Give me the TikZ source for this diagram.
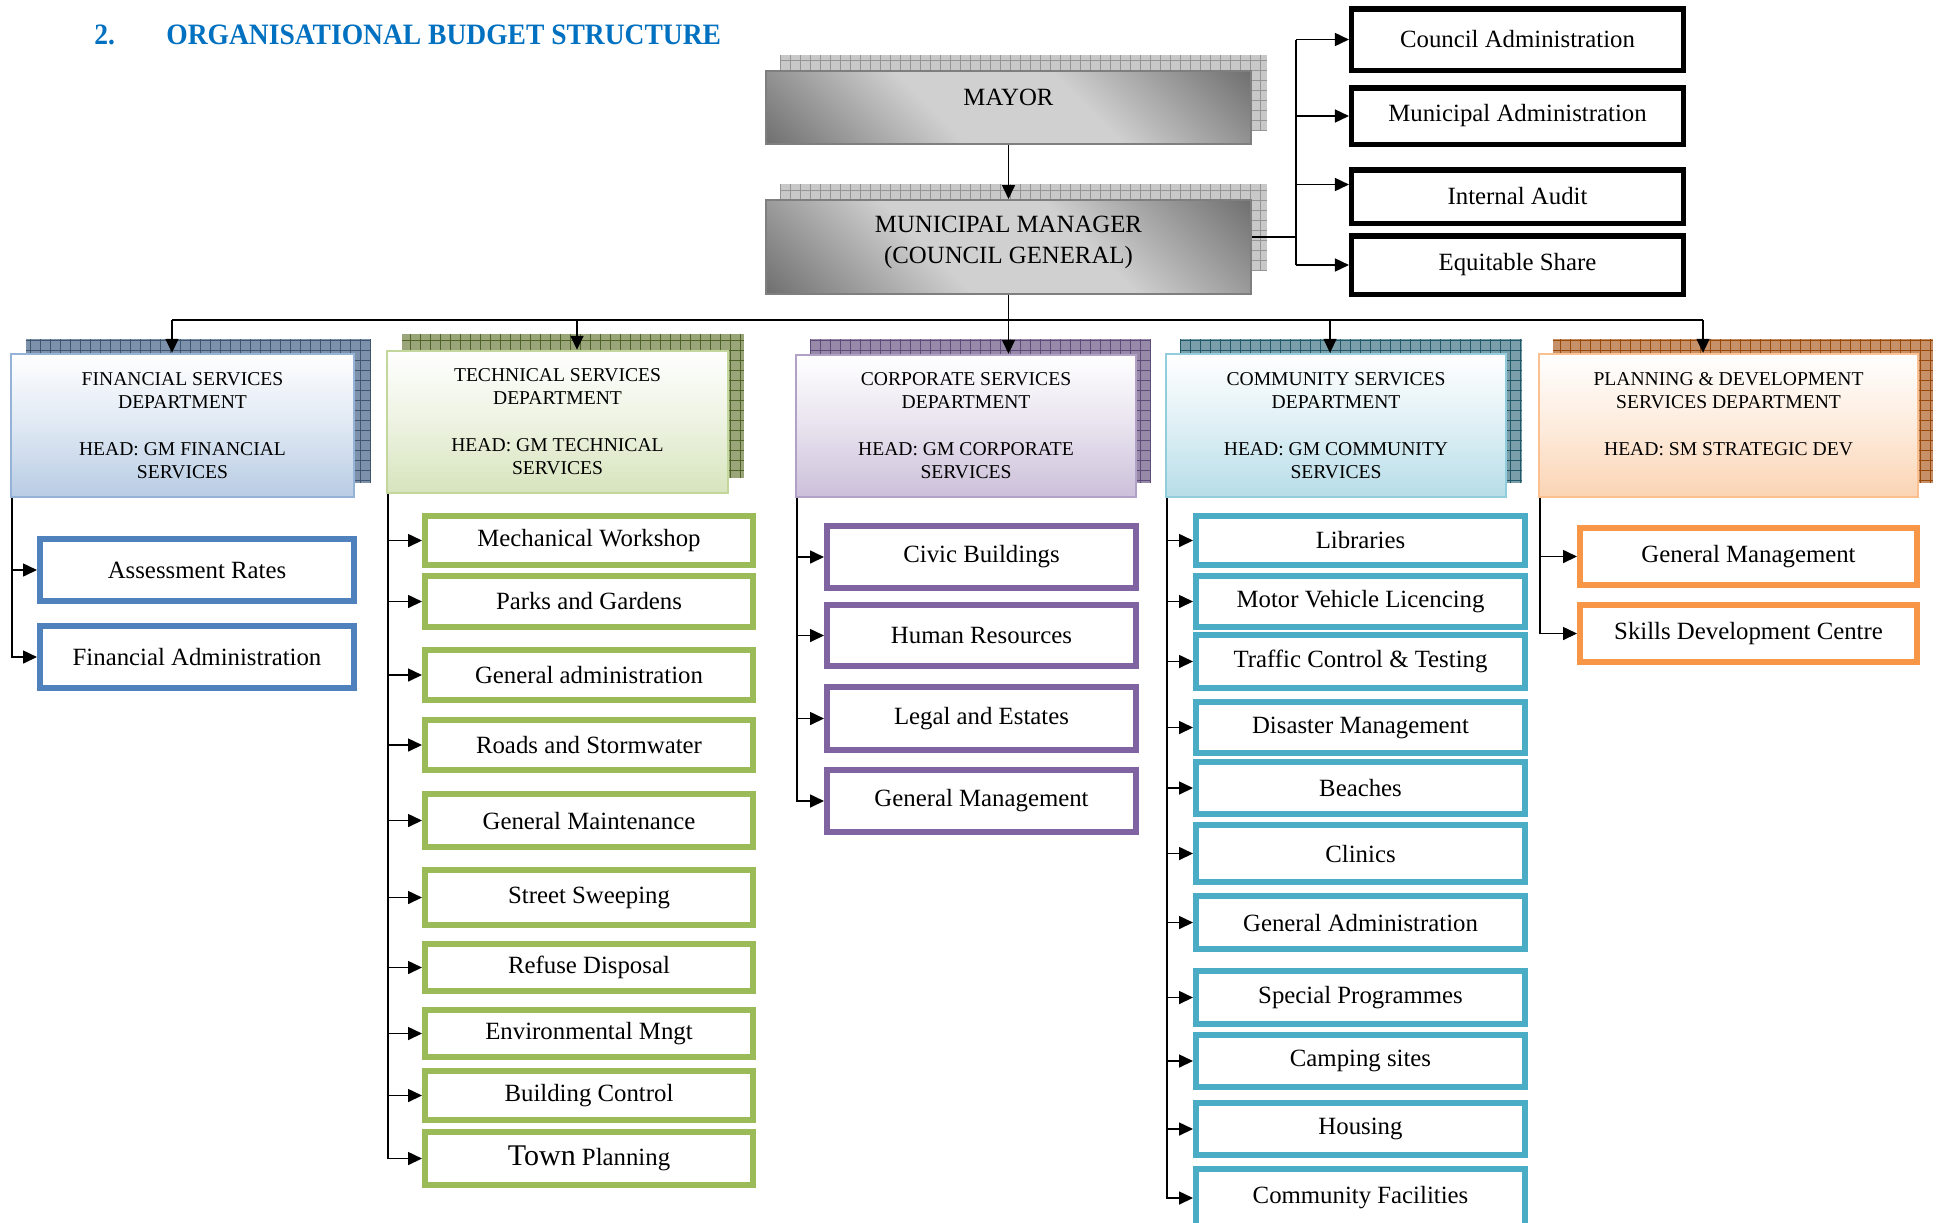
\documentclass[tikz,border=0pt]{standalone}
\usepackage{fontspec}
\setmainfont{Liberation Serif}
\usepackage{graphicx}
\usetikzlibrary{arrows.meta,backgrounds}

\definecolor{titleblue}{HTML}{0070C0}
\definecolor{topedge}{HTML}{7F7F7F}
\definecolor{topdark}{HTML}{5E5E5E}
\definecolor{toplight}{HTML}{D0D0D0}
\definecolor{topshd}{HTML}{C8C8C8}
\definecolor{topgrid}{HTML}{959595}
\definecolor{finedge}{HTML}{95B3D7}
\definecolor{finfill}{HTML}{B8CCE4}
\definecolor{finshd}{HTML}{7E91AB}
\definecolor{fingrid}{HTML}{3F5670}
\definecolor{finitem}{HTML}{4F81BD}
\definecolor{techedge}{HTML}{C3D69B}
\definecolor{techfill}{HTML}{D7E4BD}
\definecolor{techshd}{HTML}{9AA67A}
\definecolor{techgrid}{HTML}{4F6228}
\definecolor{techitem}{HTML}{9BBB59}
\definecolor{corpedge}{HTML}{B2A1C7}
\definecolor{corpfill}{HTML}{CCC0DA}
\definecolor{corpshd}{HTML}{978AA8}
\definecolor{corpgrid}{HTML}{5F4B7A}
\definecolor{corpitem}{HTML}{8064A2}
\definecolor{commedge}{HTML}{92CDDC}
\definecolor{commfill}{HTML}{B7DDE8}
\definecolor{commshd}{HTML}{7A9FAA}
\definecolor{commgrid}{HTML}{215968}
\definecolor{commitem}{HTML}{4BACC6}
\definecolor{planedge}{HTML}{FAC090}
\definecolor{planfill}{HTML}{FBD4B4}
\definecolor{planshd}{HTML}{C69068}
\definecolor{plangrid}{HTML}{984807}
\definecolor{planitem}{HTML}{F79646}

\pgfdeclareverticalshading{metal}{100bp}{color(0bp)=(topdark); color(10bp)=(topdark);
  color(40bp)=(toplight); color(60bp)=(toplight); color(90bp)=(topdark); color(100bp)=(topdark)}

\tikzset{
  line/.style={line width=0.8pt},
  arr/.style={line, -{Triangle[length=7pt,width=6.5pt]}},
  shd/.style={fill=#1shd},
  shdgrid/.style={draw=#1grid, line width=0.4pt, step=5pt},
  topbox/.style={draw=topedge, line width=1pt, shading=metal, shading angle=-45,
    minimum width=242.5pt, inner sep=0pt, align=center,
    font=\fontsize{12.4}{15.5}\selectfont},
  dept/.style={draw=#1edge, line width=1.2pt, top color=white, bottom color=#1fill,
    middle color=#1fill!45!white, inner sep=0pt, align=center, minimum height=71.5pt,
    font=\fontsize{9.8}{11.5}\selectfont},
  item/.style={draw=#1item, line width=3pt, fill=white, inner sep=0pt,
    font=\fontsize{12.4}{14}\selectfont},
  admin/.style={draw=black, line width=2.75pt, fill=white, minimum width=165.8pt,
    inner sep=0pt, font=\fontsize{12.4}{14}\selectfont},
}

\begin{document}
\begin{tikzpicture}[x=0.5pt,y=-0.5pt]
  \useasboundingbox (0,0) rectangle (1942,1222);
  \clip (0,0) rectangle (1942,1222);

  %TITLE
  \node[anchor=base west, inner sep=0pt, text=titleblue, font=\bfseries\fontsize{14.8}{17}\selectfont] (num) at (94,44) {\scalebox{0.93}[1]{2.}};
  \node[anchor=base west, inner sep=0pt, text=titleblue, font=\bfseries\fontsize{14.8}{17}\selectfont] (title) at (166,44) {\scalebox{0.93}[1]{ORGANISATIONAL BUDGET STRUCTURE}};

  %shadows
  \fill[shd=top] (780,55) rectangle (1267,130);
  \draw[shdgrid=top] (780,55) grid (1267,130);
  \fill[shd=top] (780,184) rectangle (1267,271);
  \draw[shdgrid=top] (780,184) grid (1267,271);
  \fill[shd=fin] (26,339) rectangle (370,483);
  \draw[shdgrid=fin] (26,339) grid (370,483);
  \fill[shd=tech] (402,334) rectangle (744,478);
  \draw[shdgrid=tech] (402,334) grid (744,478);
  \fill[shd=corp] (810,339) rectangle (1151,483);
  \draw[shdgrid=corp] (810,339) grid (1151,483);
  \fill[shd=comm] (1180,339) rectangle (1522,483);
  \draw[shdgrid=comm] (1180,339) grid (1522,483);
  \fill[shd=plan] (1553,339) rectangle (1933,483);
  \draw[shdgrid=plan] (1553,339) grid (1933,483);

  %MAYOR
  \node[topbox, minimum height=36.5pt, text depth=10pt] (mayor) at (1008.5,107.5) {MAYOR};
  \node[topbox, minimum height=47pt, text depth=7.5pt] (mm) at (1008.5,247) {MUNICIPAL MANAGER\\(COUNCIL GENERAL)};

  %ADMIN
  \node[admin, minimum height=30.75pt] (ca) at (1517.5,39.5) {Council Administration};
  \node[admin, minimum height=28.25pt] (ma) at (1517.5,116) {Municipal Administration};
  \node[admin, minimum height=26.75pt] (ia) at (1517.5,196.5) {Internal Audit};
  \node[admin, minimum height=29.25pt] (es) at (1517.5,265) {Equitable Share};

  %DEPARTMENTS
  \node[dept=fin, minimum width=171.5pt] (fin) at (182.5,425.5) {FINANCIAL SERVICES\\DEPARTMENT\\[12pt]HEAD: GM FINANCIAL\\SERVICES};
  \node[dept=tech, minimum width=170.5pt, minimum height=71pt] (tech) at (557.5,422) {TECHNICAL SERVICES\\DEPARTMENT\\[12pt]HEAD: GM TECHNICAL\\SERVICES};
  \node[dept=corp, minimum width=170pt, minimum height=71pt] (corp) at (966,426) {CORPORATE SERVICES\\DEPARTMENT\\[12pt]HEAD: GM CORPORATE\\SERVICES};
  \node[dept=comm, minimum width=170pt] (comm) at (1336,425.5) {COMMUNITY SERVICES\\DEPARTMENT\\[12pt]HEAD: GM COMMUNITY\\SERVICES};
  \node[dept=plan, minimum width=189.5pt] (plan) at (1728.5,425.5) {PLANNING \& DEVELOPMENT\\SERVICES DEPARTMENT\\[12pt]HEAD: SM STRATEGIC DEV\\\mbox{}};

  %FINANCE
  \node[item=fin, minimum width=157pt, minimum height=31pt] (ar) at (197,570) {Assessment Rates};
  \node[item=fin, minimum width=157pt, minimum height=31pt] (fa) at (197,657) {Financial Administration};

  %TECHNICAL
  \node[item=tech, minimum width=164pt, minimum height=24.5pt] (mw) at (589,540.5) {Mechanical Workshop};
  \node[item=tech, minimum width=164pt, minimum height=25.5pt] (pg) at (589,601.5) {Parks and Gardens};
  \node[item=tech, minimum width=164pt, minimum height=25pt] (ga) at (589,675) {General administration};
  \node[item=tech, minimum width=164pt, minimum height=25pt] (rs) at (589,745) {Roads and Stormwater};
  \node[item=tech, minimum width=164pt, minimum height=26.5pt] (gm) at (589,820.5) {General Maintenance};
  \node[item=tech, minimum width=164pt, minimum height=27.5pt] (ss) at (589,897.5) {Street Sweeping};
  \node[item=tech, minimum width=164pt, minimum height=23.5pt] (rd) at (589,967.5) {Refuse Disposal};
  \node[item=tech, minimum width=164pt, minimum height=23.5pt] (em) at (589,1033.5) {Environmental Mngt};
  \node[item=tech, minimum width=164pt, minimum height=24.5pt] (bc) at (589,1095.5) {Building Control};
  \node[item=tech, minimum width=164pt, minimum height=26.5pt] (tp) at (589,1158.5) {{\fontsize{15}{15}\selectfont Town} Planning};

  %CORPORATE
  \node[item=corp, minimum width=154.5pt, minimum height=31pt] (cb) at (981.5,557) {Civic Buildings};
  \node[item=corp, minimum width=154.5pt, minimum height=30.5pt] (hr) at (981.5,635.5) {Human Resources};
  \node[item=corp, minimum width=154.5pt, minimum height=31.5pt] (le) at (981.5,718.5) {Legal and Estates};
  \node[item=corp, minimum width=154.5pt, minimum height=31pt] (cgm) at (981.5,801) {General Management};

  %COMMUNITY
  \node[item=comm, minimum width=164.5pt, minimum height=24.5pt] (lib) at (1360.5,540.5) {Libraries};
  \node[item=comm, minimum width=164.5pt, minimum height=25.5pt] (mvl) at (1360.5,601.5) {Motor Vehicle Licencing};
  \node[item=comm, minimum width=164.5pt, minimum height=26.5pt] (tct) at (1360.5,661.5) {Traffic Control \& Testing};
  \node[item=comm, minimum width=164.5pt, minimum height=25.5pt] (dm) at (1360.5,727.5) {Disaster Management};
  \node[item=comm, minimum width=164.5pt, minimum height=26pt] (bea) at (1360.5,788) {Beaches};
  \node[item=comm, minimum width=164.5pt, minimum height=28.5pt] (cli) at (1360.5,853.5) {Clinics};
  \node[item=comm, minimum width=164.5pt, minimum height=26.5pt] (gad) at (1360.5,922.5) {General Administration};
  \node[item=comm, minimum width=164.5pt, minimum height=26.5pt] (sp) at (1360.5,997.5) {Special Programmes};
  \node[item=comm, minimum width=164.5pt, minimum height=26pt] (cs) at (1360.5,1061) {Camping sites};
  \node[item=comm, minimum width=164.5pt, minimum height=26pt] (hou) at (1360.5,1129) {Housing};
  \node[item=comm, minimum width=164.5pt, minimum height=29pt] (cf) at (1360.5,1198) {Community Facilities};

  %PLANNING
  \node[item=plan, minimum width=168.5pt, minimum height=28.5pt] (pgm) at (1748.5,556.5) {General Management};
  \node[item=plan, minimum width=168.5pt, minimum height=28.5pt] (sdc) at (1748.5,633.5) {Skills Development Centre};

  %top links
  \draw[arr] (mayor) -- (mm);
  \coordinate (rbus) at (1296,237);
  \draw[line] (rbus -| mm.east) -- (rbus);
  \draw[line] (rbus |- ca.west) -- (rbus |- es.west);
  \draw[arr] (rbus |- ca.west) -- (ca.west);
  \draw[arr] (rbus |- ma.west) -- (ma.west);
  \draw[arr] ([yshift=6pt]rbus |- ia.west) -- ([yshift=6pt]ia.west);
  \draw[arr] (rbus |- es.west) -- (es.west);

  %bus to departments
  \coordinate (bfin) at (172,320);
  \coordinate (btech) at (577,320);
  \coordinate (bcorp) at (mm.south |- bfin);
  \coordinate (bcomm) at (1330,320);
  \coordinate (bplan) at (1703,320);
  \draw[line] (mm.south) -- (bcorp);
  \draw[line] (bfin) -- (bplan);
  \draw[arr] (bfin) -- (bfin |- fin.north);
  \draw[arr] (btech) -- (btech |- tech.north);
  \draw[arr] (bcorp) -- (bcorp |- corp.north);
  \draw[arr] (bcomm) -- (bcomm |- comm.north);
  \draw[arr] (bplan) -- (bplan |- plan.north);

  %department lists
  \draw[arr] ([xshift=1pt]fin.south west) |- (ar.west);
  \draw[arr] ([xshift=1pt]fin.south west) |- (fa.west);

  \draw[arr] ([xshift=1pt]tech.south west) |- (mw.west);
  \draw[arr] ([xshift=1pt]tech.south west) |- (pg.west);
  \draw[arr] ([xshift=1pt]tech.south west) |- (ga.west);
  \draw[arr] ([xshift=1pt]tech.south west) |- (rs.west);
  \draw[arr] ([xshift=1pt]tech.south west) |- (gm.west);
  \draw[arr] ([xshift=1pt]tech.south west) |- (ss.west);
  \draw[arr] ([xshift=1pt]tech.south west) |- (rd.west);
  \draw[arr] ([xshift=1pt]tech.south west) |- (em.west);
  \draw[arr] ([xshift=1pt]tech.south west) |- (bc.west);
  \draw[arr] ([xshift=1pt]tech.south west) |- (tp.west);

  \draw[arr] ([xshift=1pt]corp.south west) |- (cb.west);
  \draw[arr] ([xshift=1pt]corp.south west) |- (hr.west);
  \draw[arr] ([xshift=1pt]corp.south west) |- (le.west);
  \draw[arr] ([xshift=1pt]corp.south west) |- (cgm.west);

  \draw[arr] ([xshift=1pt]comm.south west) |- (lib.west);
  \draw[arr] ([xshift=1pt]comm.south west) |- (mvl.west);
  \draw[arr] ([xshift=1pt]comm.south west) |- (tct.west);
  \draw[arr] ([xshift=1pt]comm.south west) |- (dm.west);
  \draw[arr] ([xshift=1pt]comm.south west) |- (bea.west);
  \draw[arr] ([xshift=1pt]comm.south west) |- (cli.west);
  \draw[arr] ([xshift=1pt]comm.south west) |- (gad.west);
  \draw[arr] ([xshift=1pt]comm.south west) |- (sp.west);
  \draw[arr] ([xshift=1pt]comm.south west) |- (cs.west);
  \draw[arr] ([xshift=1pt]comm.south west) |- (hou.west);
  \draw[arr] ([xshift=1pt]comm.south west) |- (cf.west);

  \draw[arr] ([xshift=1pt]plan.south west) |- (pgm.west);
  \draw[arr] ([xshift=1pt]plan.south west) |- (sdc.west);

\end{tikzpicture}
\end{document}
